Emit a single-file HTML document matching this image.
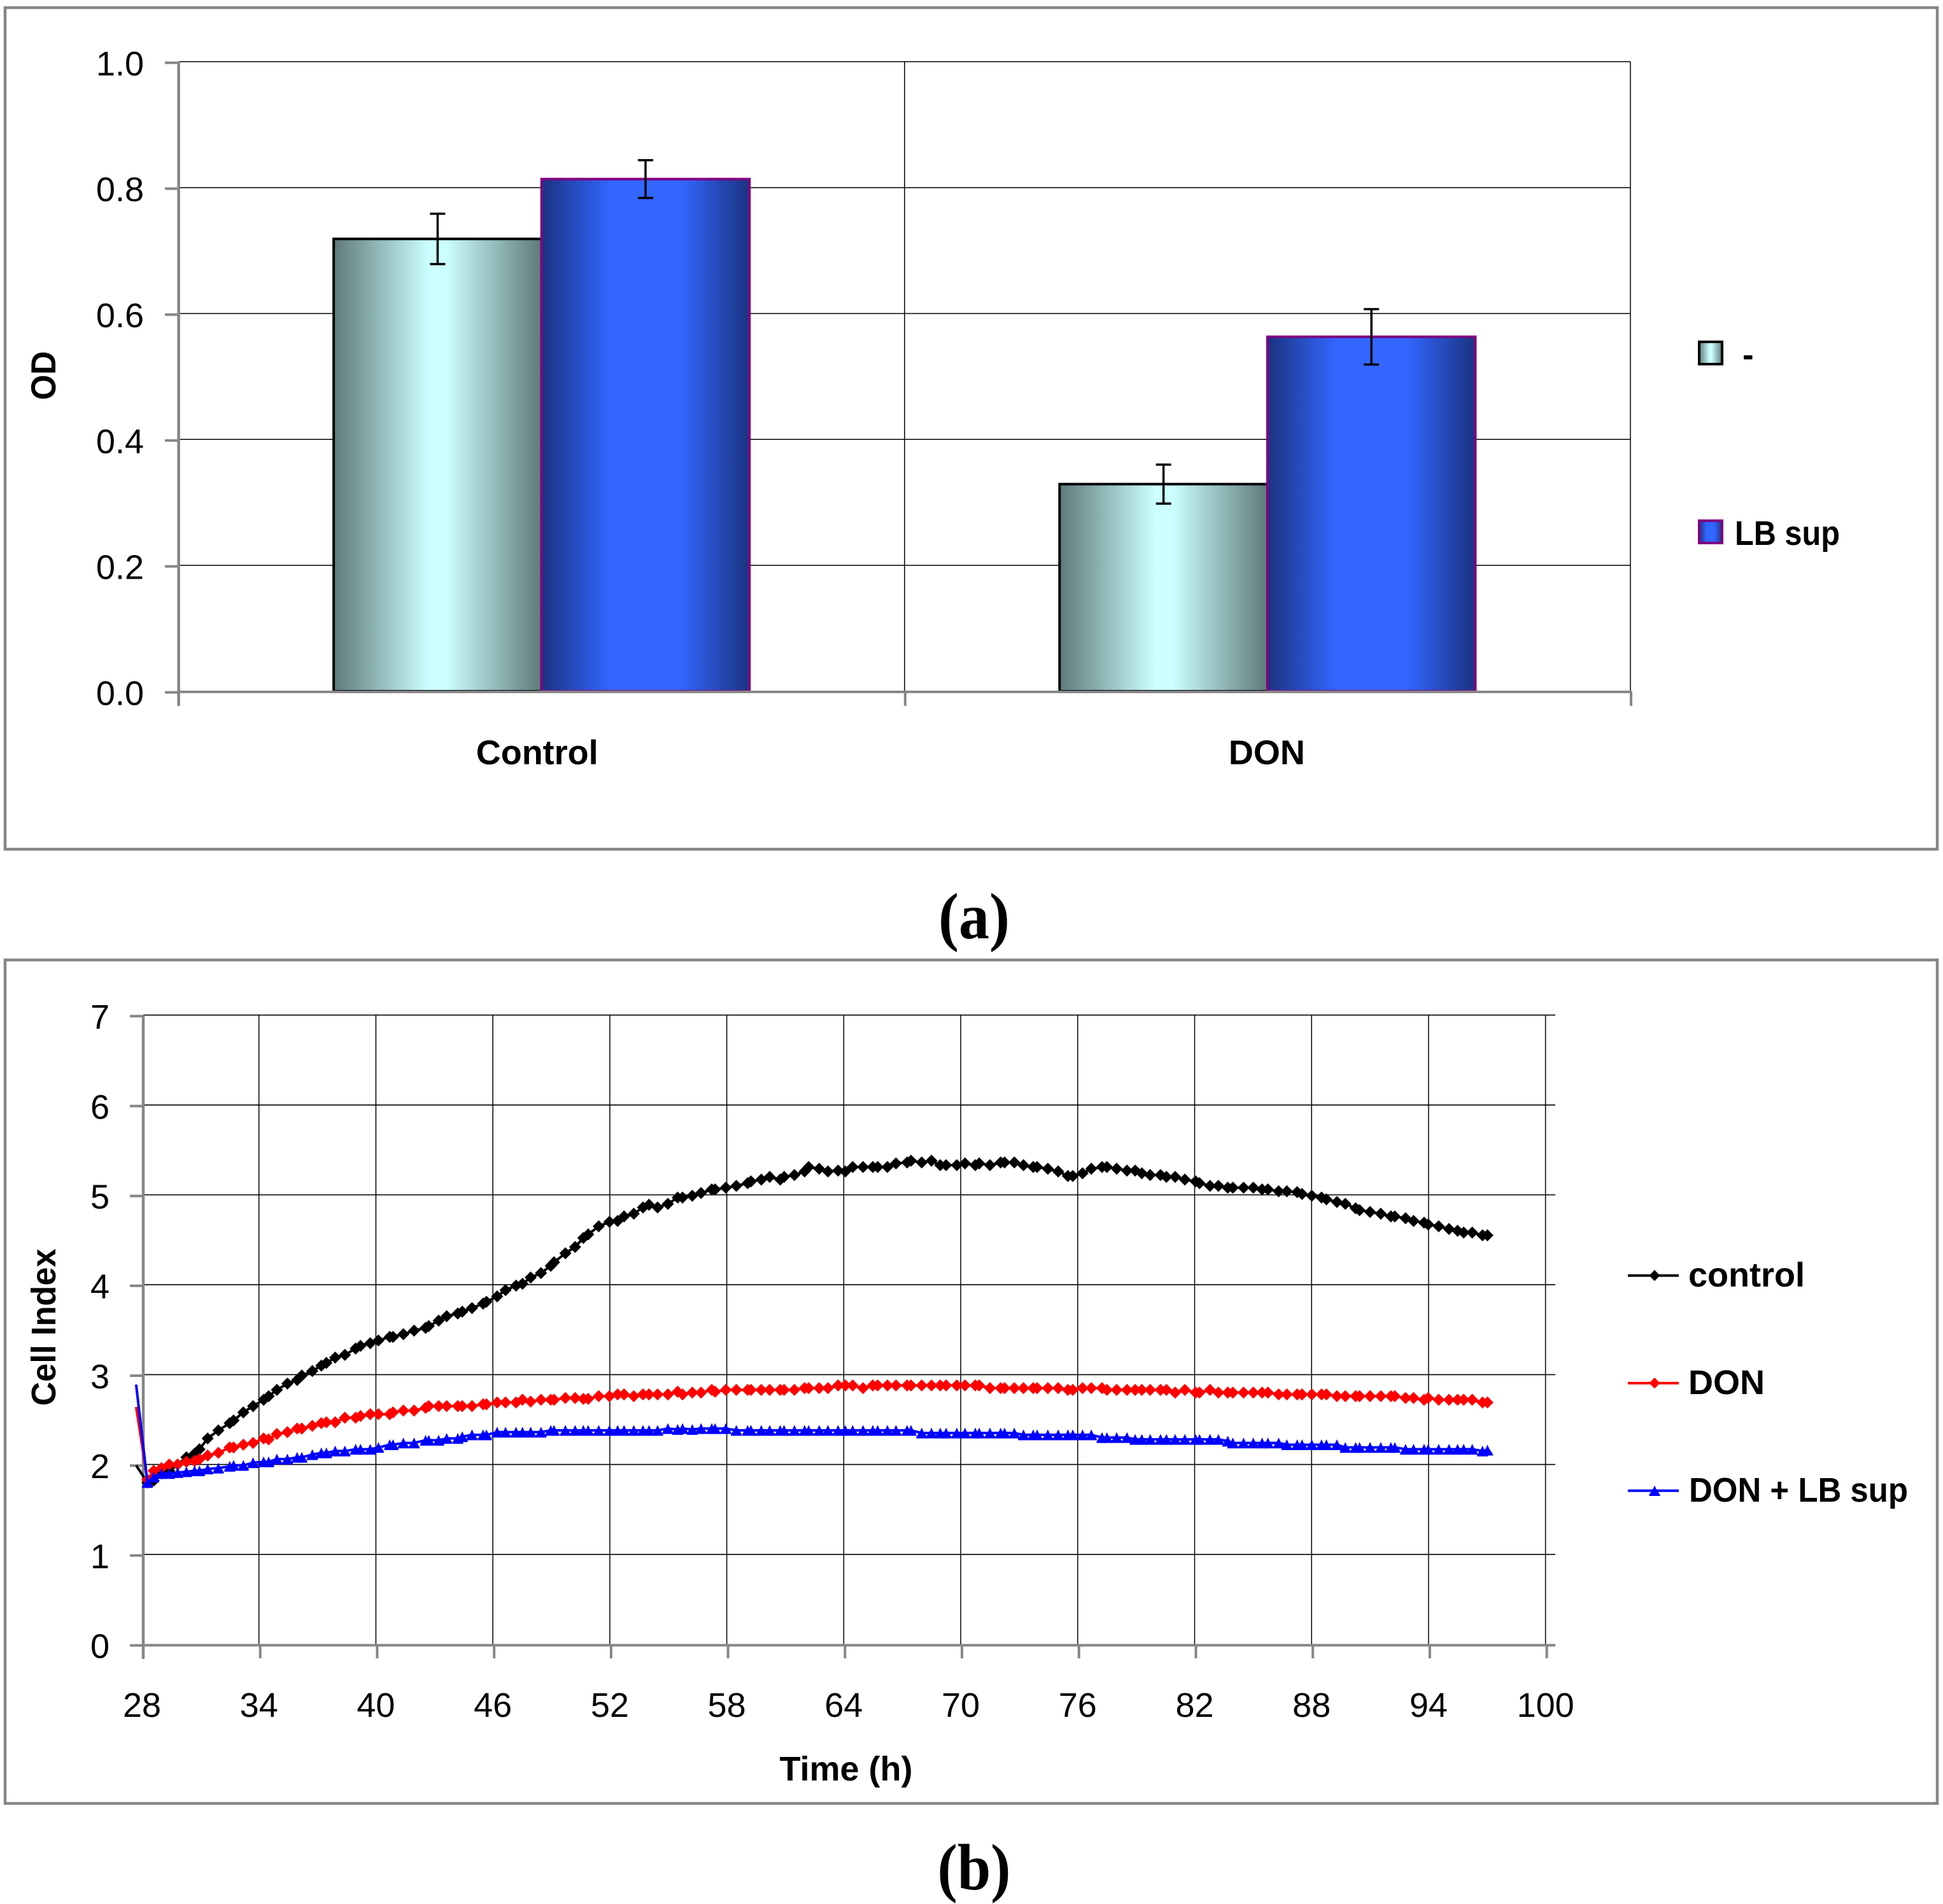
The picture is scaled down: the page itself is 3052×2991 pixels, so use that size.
<!DOCTYPE html>
<html lang="en">
<head>
<meta charset="utf-8">
<title>OD bar chart and Cell Index time course</title>
<style>
  html, body { margin: 0; padding: 0; background: #fff; }
  svg { display: block; }
  text { font-family: "Liberation Sans", sans-serif; fill: #000; }
  .b { font-weight: bold; }
  .fig { font-family: "Liberation Serif", serif; font-weight: bold; font-size: 103px; }
</style>
</head>
<body>
<svg id="figure" xmlns="http://www.w3.org/2000/svg" width="3052" height="2991" viewBox="0 0 3052 2991">
  <defs>
    <linearGradient id="aqua" x1="0" y1="0" x2="1" y2="0">
      <stop offset="0" stop-color="#5f7a7a"/>
      <stop offset="0.46" stop-color="#ccffff"/>
      <stop offset="0.54" stop-color="#ccffff"/>
      <stop offset="1" stop-color="#5f7a7a"/>
    </linearGradient>
    <linearGradient id="blue" x1="0" y1="0" x2="1" y2="0">
      <stop offset="0" stop-color="#1a3380"/>
      <stop offset="0.33" stop-color="#3366ff"/>
      <stop offset="0.67" stop-color="#3366ff"/>
      <stop offset="1" stop-color="#1a3380"/>
    </linearGradient>
  </defs>
  <rect width="3052" height="2991" fill="#fff"/>

  <!-- Panel (a) -->
  <rect x="8" y="12" width="3035" height="1322" fill="#fff" stroke="#868686" stroke-width="4.5"/>
  <g id="chartA"></g>
  <text class="b" font-size="55" transform="translate(87,590) rotate(-90)" text-anchor="middle" textLength="77" lengthAdjust="spacingAndGlyphs">OD</text>

  <g>
    <rect x="2669" y="537" width="36" height="35" fill="url(#aqua)" stroke="#000" stroke-width="4"/>
    <text class="b" x="2737" y="575" font-size="53">-</text>
  </g>
  <g>
    <rect x="2669" y="818" width="36" height="35" fill="url(#blue)" stroke="#800080" stroke-width="4"/>
    <text class="b" x="2725" y="856" font-size="54" textLength="165" lengthAdjust="spacingAndGlyphs">LB sup</text>
  </g>

  <text class="fig" x="1530" y="1474" text-anchor="middle" textLength="112" lengthAdjust="spacingAndGlyphs">(a)</text>

  <!-- Panel (b) -->
  <rect x="8" y="1508" width="3035" height="1325" fill="#fff" stroke="#868686" stroke-width="4.5"/>
  <g id="chartB"></g>
  <text class="b" font-size="54" transform="translate(87,2085) rotate(-90)" text-anchor="middle" textLength="247" lengthAdjust="spacingAndGlyphs">Cell Index</text>
  <text class="b" x="1329" y="2797" font-size="54" text-anchor="middle">Time (h)</text>

  <g>
    <line x1="2557" y1="2003.7" x2="2637" y2="2003.7" stroke="#000" stroke-width="4"/>
    <polygon points="2599,1995 2607.5,2003.7 2599,2012.4 2590.5,2003.7" fill="#000"/>
    <text class="b" x="2652" y="2021" font-size="54">control</text>
  </g>
  <g>
    <line x1="2557" y1="2172.7" x2="2637" y2="2172.7" stroke="#f00" stroke-width="4"/>
    <polygon points="2599,2164 2607.5,2172.7 2599,2181.4 2590.5,2172.7" fill="#f00"/>
    <text class="b" x="2652" y="2190" font-size="54">DON</text>
  </g>
  <g>
    <line x1="2557" y1="2341.7" x2="2637" y2="2341.7" stroke="#00f" stroke-width="4"/>
    <polygon points="2599,2333.5 2602,2340 2607.5,2348 2607.5,2350 2590.5,2350 2590.5,2348 2596,2340" fill="#00f"/>
    <text class="b" x="2653" y="2359" font-size="54" textLength="344" lengthAdjust="spacingAndGlyphs">DON + LB sup</text>
  </g>

  <text class="fig" x="1530" y="2968" text-anchor="middle" textLength="115" lengthAdjust="spacingAndGlyphs">(b)</text>
</svg>

<script>
// ---- Panel (a) data ----
const barCategories = ['Control', 'DON'];
const barTickLabels = ['0.0', '0.2', '0.4', '0.6', '0.8', '1.0'];
const noneValues = [0.7185, 0.329];
const lbSupValues = [0.8135, 0.563];
const noneErrors = [0.04, 0.031];
const lbSupErrors = [0.03, 0.044];

// ---- Panel (b) data ----
const lineYTicks = ['0', '1', '2', '3', '4', '5', '6', '7'];
const lineXTicks = ['28', '34', '40', '46', '52', '58', '64', '70', '76', '82', '88', '94', '100'];
const times = [
  27.7,28.28,28.6,29.0,29.4,29.83,30.28,30.7,30.95,31.37,
  31.92,32.5,32.7,33.2,33.7,34.24,34.5,34.92,35.46,35.96,
  36.2,36.74,37.2,37.46,37.91,38.41,38.96,39.21,39.71,40.13,
  40.71,40.88,41.41,41.96,42.55,42.71,43.22,43.63,44.2,44.43,
  44.93,45.5,45.67,46.22,46.65,47.19,47.52,47.94,48.47,48.97,
  49.14,49.72,50.22,50.64,50.89,51.43,51.98,52.4,52.73,53.23,
  53.7,54.01,54.45,54.98,55.48,55.73,56.23,56.68,57.23,57.4,
  57.95,58.49,59.07,59.24,59.77,60.2,60.74,60.94,61.47,61.99,
  62.2,62.74,63.19,63.71,64.08,64.46,64.99,65.49,65.74,66.24,
  66.68,67.25,67.45,68.0,68.5,68.95,69.25,69.8,70.22,70.75,
  70.95,71.5,72.05,72.25,72.75,73.22,73.72,73.92,74.47,75.0,
  75.5,75.75,76.25,76.7,77.25,77.5,78.0,78.53,78.95,79.29,
  79.72,80.25,80.55,81.0,81.5,82.05,82.25,82.79,83.22,83.7,
  83.96,84.51,85.01,85.46,85.76,86.31,86.73,87.26,87.51,88.01,
  88.51,88.76,89.3,89.73,90.26,90.46,91.0,91.55,92.07,92.27,
  92.82,93.23,93.77,93.98,94.52,95.05,95.49,95.8,96.24,96.77,
  97.02
];
const controlValues = [
  1.99,1.80,1.82,1.90,1.93,2.00,2.08,2.12,2.17,2.29,
  2.38,2.46,2.49,2.58,2.65,2.72,2.76,2.83,2.90,2.94,
  2.99,3.04,3.10,3.13,3.19,3.22,3.29,3.32,3.35,3.38,
  3.42,3.42,3.45,3.49,3.52,3.54,3.60,3.65,3.68,3.70,
  3.74,3.79,3.81,3.87,3.94,3.99,4.01,4.08,4.13,4.21,
  4.25,4.35,4.42,4.52,4.56,4.65,4.70,4.71,4.76,4.79,
  4.86,4.89,4.86,4.90,4.97,4.97,4.99,5.02,5.06,5.06,
  5.08,5.10,5.13,5.15,5.17,5.20,5.17,5.20,5.22,5.26,
  5.31,5.29,5.26,5.27,5.26,5.31,5.31,5.31,5.31,5.31,
  5.35,5.36,5.38,5.36,5.38,5.33,5.33,5.33,5.35,5.33,
  5.35,5.33,5.36,5.36,5.36,5.33,5.31,5.31,5.29,5.26,
  5.21,5.21,5.24,5.29,5.31,5.31,5.29,5.27,5.27,5.24,
  5.22,5.22,5.20,5.20,5.17,5.15,5.13,5.10,5.10,5.08,
  5.08,5.08,5.08,5.06,5.06,5.04,5.04,5.03,5.01,4.99,
  4.97,4.95,4.92,4.90,4.85,4.83,4.81,4.79,4.76,4.76,
  4.74,4.71,4.69,4.67,4.65,4.62,4.60,4.58,4.58,4.55,
  4.55
];
const donValues = [
  2.64,1.83,1.93,1.96,2.00,2.00,2.03,2.04,2.06,2.10,
  2.13,2.19,2.19,2.22,2.24,2.29,2.28,2.34,2.36,2.40,
  2.40,2.43,2.46,2.47,2.47,2.52,2.52,2.54,2.56,2.56,
  2.56,2.58,2.60,2.60,2.63,2.65,2.65,2.65,2.65,2.65,
  2.65,2.67,2.67,2.69,2.69,2.69,2.72,2.70,2.72,2.72,
  2.72,2.74,2.74,2.73,2.73,2.76,2.76,2.78,2.78,2.76,
  2.78,2.78,2.78,2.78,2.81,2.78,2.80,2.80,2.83,2.81,
  2.83,2.83,2.83,2.83,2.83,2.83,2.83,2.83,2.83,2.85,
  2.85,2.85,2.85,2.88,2.88,2.88,2.85,2.88,2.88,2.88,
  2.88,2.88,2.88,2.88,2.88,2.88,2.88,2.88,2.88,2.88,
  2.88,2.85,2.85,2.85,2.85,2.85,2.85,2.85,2.85,2.85,
  2.83,2.83,2.85,2.85,2.85,2.83,2.83,2.83,2.83,2.83,
  2.83,2.83,2.83,2.80,2.83,2.80,2.80,2.83,2.80,2.80,
  2.80,2.80,2.80,2.80,2.80,2.78,2.78,2.78,2.78,2.78,
  2.78,2.78,2.76,2.76,2.76,2.76,2.76,2.76,2.76,2.76,
  2.74,2.74,2.72,2.74,2.72,2.72,2.72,2.72,2.72,2.69,
  2.69
];
const donLbSupValues = [
  2.89,1.80,1.86,1.90,1.90,1.91,1.92,1.93,1.93,1.95,
  1.96,1.98,1.99,1.99,2.02,2.03,2.03,2.06,2.06,2.08,
  2.08,2.11,2.13,2.13,2.15,2.15,2.17,2.17,2.17,2.19,
  2.22,2.22,2.24,2.24,2.27,2.27,2.27,2.29,2.29,2.31,
  2.33,2.33,2.33,2.36,2.36,2.36,2.36,2.36,2.36,2.38,
  2.38,2.38,2.38,2.38,2.38,2.38,2.38,2.38,2.38,2.38,
  2.38,2.38,2.38,2.40,2.39,2.40,2.39,2.40,2.40,2.40,
  2.40,2.38,2.38,2.38,2.38,2.38,2.38,2.38,2.38,2.38,
  2.38,2.38,2.38,2.38,2.38,2.38,2.38,2.38,2.38,2.38,
  2.38,2.38,2.38,2.35,2.35,2.35,2.35,2.35,2.35,2.35,
  2.35,2.35,2.35,2.35,2.35,2.33,2.33,2.33,2.33,2.33,
  2.33,2.33,2.33,2.33,2.30,2.30,2.30,2.30,2.28,2.28,
  2.28,2.28,2.28,2.28,2.28,2.28,2.28,2.28,2.28,2.26,
  2.24,2.24,2.24,2.24,2.24,2.24,2.22,2.22,2.22,2.22,
  2.22,2.22,2.22,2.19,2.19,2.19,2.19,2.19,2.19,2.19,
  2.17,2.17,2.17,2.17,2.17,2.17,2.17,2.17,2.17,2.15,
  2.16
];

const SVG_NS = 'http://www.w3.org/2000/svg';
const AXIS_GREY = '#868686';

function make(parent, tag, attrs, text) {
  const el = document.createElementNS(SVG_NS, tag);
  for (const k in attrs) el.setAttribute(k, attrs[k]);
  if (text !== undefined) el.textContent = text;
  parent.appendChild(el);
  return el;
}

// ---- Panel (a) ----
(function drawBars() {
  const root = document.getElementById('chartA');
  const left = 280.6, right = 2561, top = 96.9;
  const yA = v => 1085.9 - 989 * v;
  const bandW = (right - left) / barCategories.length;
  const barW = bandW * 0.2864;
  const bandCenter = i => left + bandW * (i + 0.5);

  barTickLabels.forEach(function (label) {
    const v = parseFloat(label);
    if (v > 0) {
      const g = make(root, 'line', { x1: left, x2: right, y1: yA(v), y2: yA(v), stroke: '#000', 'stroke-width': 1.5 });
      
      
    }
  });
  [1, 2].forEach(function (i) {
    const g = make(root, 'line', { x1: left + bandW * i, x2: left + bandW * i, y1: top, y2: yA(0), stroke: '#000', 'stroke-width': 1.5 });
    
    
  });

  barCategories.forEach(function (cat, i) {
    const c = bandCenter(i);
    const a = make(root, 'rect', { x: c - barW, y: yA(noneValues[i]), width: barW, height: yA(0) - yA(noneValues[i]), fill: 'url(#aqua)', stroke: '#000', 'stroke-width': 4 });
    
    
    const b = make(root, 'rect', { x: c, y: yA(lbSupValues[i]), width: barW, height: yA(0) - yA(lbSupValues[i]), fill: 'url(#blue)', stroke: '#800080', 'stroke-width': 4 });
    
    
  });

  function errorBar(cx, value, err) {
    const hi = yA(value + err), lo = yA(value - err);
    const p = make(root, 'path', {
      d: 'M' + cx + ' ' + hi + 'V' + lo + 'M' + (cx - 12) + ' ' + hi + 'H' + (cx + 12) + 'M' + (cx - 12) + ' ' + lo + 'H' + (cx + 12),
      fill: 'none', stroke: '#000', 'stroke-width': 3.5
    });
    
    
  }
  barCategories.forEach(function (cat, i) {
    errorBar(bandCenter(i) - barW / 2, noneValues[i], noneErrors[i]);
    errorBar(bandCenter(i) + barW / 2, lbSupValues[i], lbSupErrors[i]);
  });

  const axisY = make(root, 'line', { x1: left, x2: left, y1: top, y2: yA(0) + 23, stroke: AXIS_GREY, 'stroke-width': 4.5 });
  
  
  const axisX = make(root, 'line', { x1: left, x2: right, y1: yA(0) + 1, y2: yA(0) + 1, stroke: AXIS_GREY, 'stroke-width': 4 });
  
  

  barTickLabels.forEach(function (label) {
    const v = parseFloat(label);
    const t = make(root, 'line', { x1: 259, x2: left, y1: yA(v) + 1.7, y2: yA(v) + 1.7, stroke: AXIS_GREY, 'stroke-width': 4 });
    
    
    const tx = make(root, 'text', { x: 226, y: yA(v) + 21.5, 'font-size': 54, 'text-anchor': 'end' }, label);
    
    
  });
  [1, 2].forEach(function (i) {
    const t = make(root, 'line', { x1: left + bandW * i + 1, x2: left + bandW * i + 1, y1: yA(0), y2: yA(0) + 23, stroke: AXIS_GREY, 'stroke-width': 4 });
    
    
  });
  barCategories.forEach(function (cat, i) {
    const t = make(root, 'text', { x: bandCenter(i) + (i === 0 ? -7 : -1), y: 1200.5, 'font-size': 54, 'font-weight': 'bold', 'text-anchor': 'middle', class: 'b' }, cat);
    
    
  });
})();

// ---- Panel (b) ----
(function drawLines() {
  const root = document.getElementById('chartB');
  const xB = t => 223 + 30.62 * (t - 28);
  const yB = v => 2583 - 141.2 * v;
  const gridTop = yB(7), gridRight = 2443;

  lineYTicks.forEach(function (label) {
    const v = +label;
    if (v > 0) {
      const g = make(root, 'line', { x1: 225, x2: gridRight, y1: yB(v), y2: yB(v), stroke: '#000', 'stroke-width': 1.6 });
      
      
    }
  });
  lineXTicks.forEach(function (label) {
    const t = +label;
    if (t > 28) {
      const g = make(root, 'line', { x1: xB(t), x2: xB(t), y1: gridTop, y2: yB(0), stroke: '#000', 'stroke-width': 1.5 });
      
      
    }
  });

  const axisY = make(root, 'line', { x1: 225, x2: 225, y1: gridTop, y2: yB(0) + 23, stroke: AXIS_GREY, 'stroke-width': 4.5 });
  
  
  const axisX = make(root, 'line', { x1: 225, x2: gridRight, y1: yB(0) + 1.5, y2: yB(0) + 1.5, stroke: AXIS_GREY, 'stroke-width': 4 });
  
  

  lineYTicks.forEach(function (label) {
    const v = +label;
    const t = make(root, 'line', { x1: 204, x2: 225, y1: yB(v) + 1.7, y2: yB(v) + 1.7, stroke: AXIS_GREY, 'stroke-width': 4 });
    
    
    const tx = make(root, 'text', { x: 172, y: yB(v) + 21.5, 'font-size': 54, 'text-anchor': 'end' }, label);
    
    
  });
  lineXTicks.forEach(function (label) {
    const v = +label;
    const t = make(root, 'line', { x1: xB(v) + 2, x2: xB(v) + 2, y1: yB(0), y2: yB(0) + 22, stroke: AXIS_GREY, 'stroke-width': 4 });
    
    
    const tx = make(root, 'text', { x: xB(v), y: 2697, 'font-size': 54, 'text-anchor': 'middle' }, label);
    
    
  });

  function diamond(cx, cy) {
    const w = 9.5, h = 9.5;
    return [cx, cy - h, cx + w, cy, cx, cy + h, cx - w, cy].join(' ');
  }
  function triangle(cx, cy) {
    const w = 8.5, h = 8.5;
    return [cx, cy - h, cx + 3, cy - 2, cx + w, cy + 6, cx + w, cy + h, cx - w, cy + h, cx - w, cy + 6, cx - 3, cy - 2].join(' ');
  }

  function series(name, values, color, shape) {
    const g = make(root, 'g', {});
    
    
    const pts = values.map((v, i) => xB(times[i]) + ',' + yB(v)).join(' ');
    const line = make(g, 'polyline', { points: pts, fill: 'none', stroke: color, 'stroke-width': 4, 'stroke-linejoin': 'round' });
    
    
    values.forEach(function (v, i) {
      if (i === 0) return; // the lead-in point carries no marker
      const m = make(g, 'polygon', { points: shape(xB(times[i]), yB(v)), fill: color });
      
      
    });
  }
  series('control', controlValues, '#000000', diamond);
  series('don', donValues, '#ff0000', diamond);
  series('don-lb-sup', donLbSupValues, '#0000ff', triangle);
})();
</script>
</body>
</html>
